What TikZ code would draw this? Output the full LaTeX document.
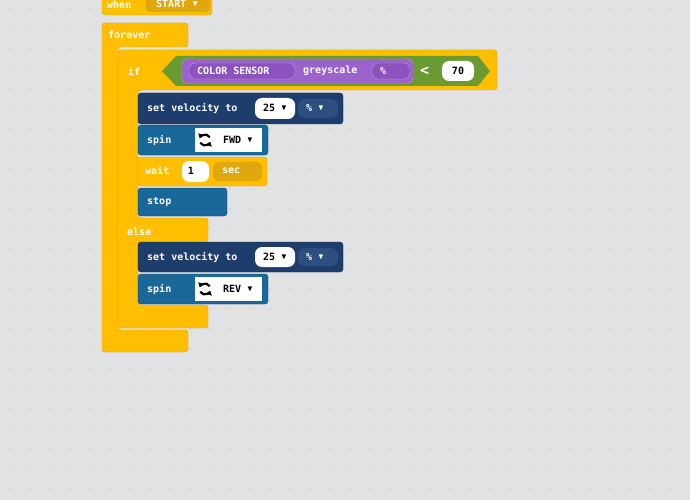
\documentclass[tikz,border=0pt]{standalone}
\usepackage{amssymb}
\usepackage{fontspec}
\setmonofont{DejaVu Sans Mono}
\usepackage{tikz}
\usetikzlibrary{arrows.meta}
\definecolor{bgGrey}{HTML}{E1E2E4}
\definecolor{dotGrey}{HTML}{A9AAAD}
\definecolor{ctrlYel}{HTML}{FFBF00}
\definecolor{ctrlEdge}{HTML}{D9A100}
\definecolor{ctrlDark}{HTML}{E0A810}
\definecolor{velNavy}{HTML}{1F3D6C}
\definecolor{velPill}{HTML}{2C4F80}
\definecolor{spinBlue}{HTML}{1A6799}
\definecolor{condGreen}{HTML}{6A9A32}
\definecolor{sensPurp}{HTML}{9B62CB}
\definecolor{sensPill}{HTML}{8E52C0}
\definecolor{sensEdge}{HTML}{C39AE6}
\newcommand{\ddarrow}{\raisebox{1pt}{\scalebox{0.8}{$\blacktriangledown$}}}

\begin{document}
\begin{tikzpicture}[x=1pt,y=-1pt,every node/.style={font=\ttfamily\bfseries\fontsize{10}{11}\selectfont,inner sep=0pt},
ctrl/.style={fill=ctrlYel,draw=ctrlEdge,rounded corners=3pt},
lbl/.style={text=white,anchor=west},
pill/.style={fill=white,rounded corners=7pt},
dark/.style={text=black},
spinicon/.style={line width=2.2pt,-{Triangle[length=4pt,width=6pt]}}]
\fill[bgGrey] (0,0) rectangle (690,500);
\useasboundingbox (0,0) rectangle (690,500);
\foreach \i in {0,...,34}
  \foreach \j in {0,...,25}
    \fill[dotGrey] (10+20*\i,9+20*\j) circle (0.7);
% hat block
\filldraw[ctrl] (102,-4) rectangle (212,15);
\node[lbl] (when) at (107,5) {when};
\filldraw[fill=ctrlDark,draw=ctrlEdge,rounded corners=5pt] (146,-4) rectangle (210,12);
\node[lbl] (start) at (156,4) {START \ddarrow};
% forever and if/else frames
\filldraw[ctrl] (102,23)--(188,23)--(188,47)--(118,47)--(118,330)--(188,330)--(188,352)--(102,352)--cycle;
\node[lbl] (forever) at (108,35) {forever};
\filldraw[ctrl] (118,50)--(497,50)--(497,90)--(138,90)--(138,218)--(208,218)--(208,242)--(138,242)--(138,305)--(208,305)--(208,328)--(118,328)--cycle;
\node[lbl] (if) at (128,71) {if};
\node[lbl] (else) at (127,232) {else};
% condition
\fill[condGreen] (162,71)--(176,56)--(478,56)--(490,71)--(478,86)--(176,86)--cycle;
\filldraw[fill=sensPurp,draw=sensEdge,rounded corners=5pt] (182,59) rectangle (413,83);
\filldraw[fill=sensPill,draw=sensEdge,rounded corners=6pt] (189,63) rectangle (295,79);
\node[lbl] (sensor) at (197,71) {COLOR SENSOR};
\node[lbl] (grey) at (303,71) {greyscale};
\filldraw[fill=sensPill,draw=sensEdge,rounded corners=6pt] (372,63) rectangle (410,79);
\node[lbl] (pct) at (380,71) {\%};
\node[lbl,font=\ttfamily\bfseries\fontsize{15}{15}\selectfont] (lt) at (420,71) {<};
\fill[pill] (442,61) rectangle (474,81);
\node[dark] (seventy) at (458,71) {70};
% then branch
\filldraw[fill=velNavy,draw=velNavy!70!black,rounded corners=3pt] (138,93) rectangle (343,124);
\node[lbl] (setv) at (147,108) {set velocity to};
\fill[pill] (255,98) rectangle (295,119);
\node[dark] (vA) at (275,108) {25 \ddarrow};
\fill[velPill,rounded corners=7pt] (298,99) rectangle (338,118);
\node[lbl] (uA) at (306,108) {\% \ddarrow};
\filldraw[fill=spinBlue,draw=spinBlue!70!black,rounded corners=3pt] (138,125) rectangle (268,155);
\node[lbl] (spinA) at (147,140) {spin};
\fill[white] (195,128) rectangle (262,152);
\draw[spinicon] (205,140) ++(150:5.5) arc (150:20:5.5);
\draw[spinicon] (205,140) ++(-30:5.5) arc (-30:-160:5.5);
\node[dark] (fwd) at (238,140) {FWD \ddarrow};
\filldraw[ctrl] (138,157) rectangle (267,186);
\node[lbl] (wait) at (145,171) {wait};
\fill[pill] (182,161) rectangle (209,182);
\node[dark] (one) at (191,171) {1};
\filldraw[fill=ctrlDark,draw=ctrlEdge,rounded corners=7pt] (213,162) rectangle (262,181);
\node[lbl] (sec) at (222,171) {sec};
\filldraw[fill=spinBlue,draw=spinBlue!70!black,rounded corners=3pt] (138,188) rectangle (227,216);
\node[lbl] (stop) at (147,202) {stop};
% else branch
\filldraw[fill=velNavy,draw=velNavy!70!black,rounded corners=3pt] (138,242) rectangle (343,272);
\node[lbl] (setvB) at (147,257) {set velocity to};
\fill[pill] (255,247) rectangle (295,267);
\node[dark] (vB) at (275,257) {25 \ddarrow};
\fill[velPill,rounded corners=7pt] (298,248) rectangle (338,266);
\node[lbl] (uB) at (306,257) {\% \ddarrow};
\filldraw[fill=spinBlue,draw=spinBlue!70!black,rounded corners=3pt] (138,274) rectangle (268,304);
\node[lbl] (spinB) at (147,289) {spin};
\fill[white] (195,277) rectangle (262,301);
\draw[spinicon] (205,289) ++(150:5.5) arc (150:20:5.5);
\draw[spinicon] (205,289) ++(-30:5.5) arc (-30:-160:5.5);
\node[dark] (rev) at (238,289) {REV \ddarrow};
\end{tikzpicture}
\end{document}
